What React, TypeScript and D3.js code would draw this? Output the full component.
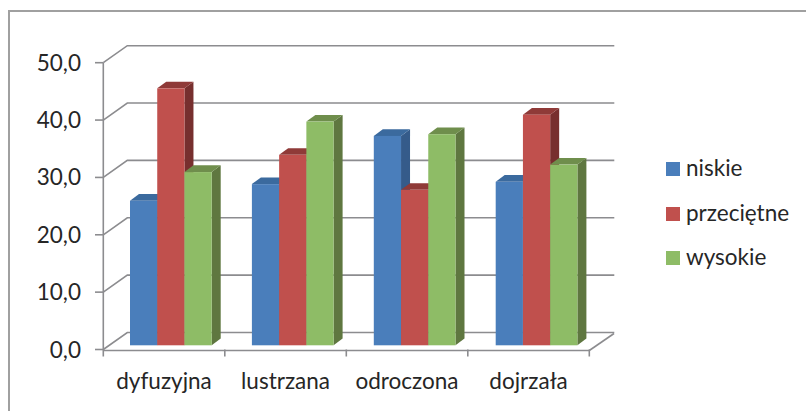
import React from "react";
import * as d3 from "d3";

const categories = ["dyfuzyjna", "lustrzana", "odroczona", "dojrzała"];
const seriesNames = ["niskie", "przeciętne", "wysokie"];
const niskie = [25.2, 28.1, 36.5, 28.5];
const przecietne = [44.8, 33.2, 27.1, 40.2];
const wysokie = [30.2, 39.0, 36.8, 31.5];
const yTicks = [0, 10, 20, 30, 40, 50];
const front = ["#4a7ebb", "#c0504d", "#8ebc66"];
const side = ["#355b8a", "#772f2e", "#5f7740"];
const topc = ["#3b6a9e", "#8f3a38", "#6f8e4c"];
const font = "Lato, Carlito, 'Open Sans', sans-serif";
const textCol = "#262626";
const axisCol = "#8c8c8f";

export default function App() {
  const values = [niskie, przecietne, wysokie];
  const y = d3.scaleLinear().domain([0, 50]).range([349.5, 62.7]);
  const x = d3.scaleBand().domain(categories).range([103.3, 589.3]);
  const barX = d3.scaleBand().domain(categories).range([103.3, 590.9]);
  const sub = d3.scaleBand().domain(seriesNames).range([26.7, 108.4]);
  const ddx = 24, ddy = -17;
  const bdx = 9, bdy = -6.7, baseShift = -4.2;
  const legY = [162, 207, 251];
  return (
    <svg width={806} height={411} style={{ position: "absolute", left: 0, top: 0, background: "#fff" }}>
      <g stroke="#a0a0a0" strokeWidth={2} fill="none">
        <line x1={9} x2={9} y1={10} y2={411} />
        <line x1={8} x2={806} y1={11} y2={11} />
      </g>
      {yTicks.map((t) => (
        <g key={t} stroke={axisCol} strokeWidth={1.6} fill="none">
          <polyline points={`${103.3},${y(t)} ${103.3 + ddx},${y(t) + ddy} ${589.3 + ddx + 1},${y(t) + ddy}`} />
          <line x1={95} x2={103.3} y1={y(t)} y2={y(t)} />
        </g>
      ))}
      <g stroke={axisCol} strokeWidth={1.6} fill="none">
        <line x1={103.3} x2={103.3} y1={y(50)} y2={y(0) + 7} />
        <line x1={103.3} x2={589.3} y1={y(0) + 1} y2={y(0) + 1} />
        <line x1={589.3} x2={614} y1={y(0) + 1} y2={y(0) - 16} />
        {categories.map((c) => (
          <line key={c} x1={(x(c) as number) + x.bandwidth()} x2={(x(c) as number) + x.bandwidth()} y1={y(0)} y2={y(0) + 7} />
        ))}
      </g>
      {categories.map((c, ci) => (
        <g key={c}>
          {seriesNames.map((s, si) => {
            const x0 = (barX(c) as number) + (sub(s) as number);
            const w = sub.bandwidth();
            const v = values[si][ci];
            const yt = y(v) + baseShift;
            const yb = y(0) + baseShift;
            return (
              <g key={s}>
                <path d={`M${x0 + w},${yt}L${x0 + w + bdx},${yt + bdy}L${x0 + w + bdx},${yb + bdy}L${x0 + w},${yb}Z`} fill={side[si]} />
                <path d={`M${x0},${yt}L${x0 + bdx},${yt + bdy}L${x0 + w + bdx},${yt + bdy}L${x0 + w},${yt}Z`} fill={topc[si]} />
                <rect x={x0} y={yt} width={w} height={yb - yt} fill={front[si]} />
              </g>
            );
          })}
        </g>
      ))}
      <g fontFamily={font} fontSize={22.5} fill={textCol}>
        {yTicks.map((t) => (
          <text key={t} x={81} y={y(t) + 8} textAnchor="end">{t.toFixed(1).replace(".", ",")}</text>
        ))}
        {categories.map((c) => (
          <text key={c} x={(x(c) as number) + x.bandwidth() / 2} y={388.5} textAnchor="middle">{c}</text>
        ))}
        {seriesNames.map((s, i) => (
          <g key={s}>
            <rect x={666} y={legY[i]} width={14} height={14} fill={front[i]} />
            <text x={686} y={legY[i] + 14}>{s}</text>
          </g>
        ))}
      </g>
    </svg>
  );
}
